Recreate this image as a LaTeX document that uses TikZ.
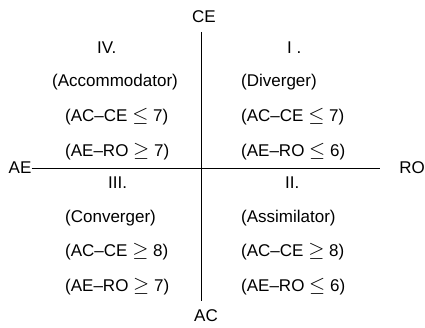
\documentclass[tikz,border=0pt]{standalone}
\usepackage{fontspec}
\setmainfont{Liberation Sans}
\usepackage{tikz}
\usetikzlibrary{positioning}
\newcommand{\lesym}{{\fontsize{21}{19}\selectfont$\leq$}}
\newcommand{\gesym}{{\fontsize{21}{19}\selectfont$\geq$}}

\begin{document}
\begin{tikzpicture}[x=1pt,y=-1pt,every node/.style={font=\fontsize{17}{19}\selectfont,inner sep=0pt},
    cell/.style={anchor=west}]
    \useasboundingbox (0,0) rectangle (425,328);
    % axes
    \node (ce) at (204,17) {CE};
    \node (ac) at (206,316) {AC};
    \node (ae) at (20,168) {AE};
    \node (ro) at (412,168) {RO};
    \coordinate (ytop) at (201,32);
    \coordinate (ybot) at (201,301);
    \coordinate (xend) at (380,168);
    \draw[line width=.8pt] (ytop) -- (ybot);
    \draw[line width=.8pt] (ae.east) -- (xend);
    % quadrant IV
    \node[cell] (q4) at (97,48) {IV.};
    \node[cell] (q4name) at (52,82) {(Accommodator)};
    \node[cell] (q4ac) at (65,117) {(AC--CE \lesym\ 7)};
    \node[cell] (q4ae) at (65,152) {(AE--RO \gesym\ 7)};
    % quadrant I
    \node[cell] (q1) at (287,48) {I .};
    \node[cell] (q1name) at (241,82) {(Diverger)};
    \node[cell] (q1ac) at (241,117) {(AC--CE \lesym\ 7)};
    \node[cell] (q1ae) at (241,152) {(AE--RO \lesym\ 6)};
    % quadrant III
    \node[cell] (q3) at (108,183) {III.};
    \node[cell] (q3name) at (65,218) {(Converger)};
    \node[cell] (q3ac) at (65,252) {(AC--CE \gesym\ 8)};
    \node[cell] (q3ae) at (65,287) {(AE--RO \gesym\ 7)};
    % quadrant II
    \node[cell] (q2) at (285,183) {II.};
    \node[cell] (q2name) at (241,218) {(Assimilator)};
    \node[cell] (q2ac) at (241,252) {(AC--CE \gesym\ 8)};
    \node[cell] (q2ae) at (241,287) {(AE--RO \lesym\ 6)};
\end{tikzpicture}
\end{document}
